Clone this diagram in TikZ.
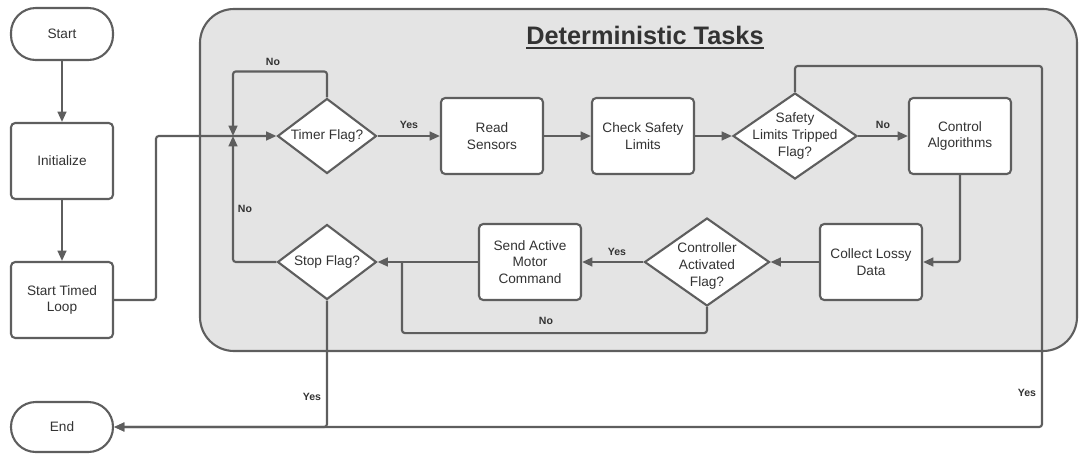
\documentclass[tikz,border=0pt]{standalone}
\usepackage{fontspec}
\setmainfont{Liberation Sans}
\usetikzlibrary{arrows.meta,positioning,shapes.geometric}
\definecolor{linegray}{HTML}{5E5E5E}
\definecolor{textgray}{HTML}{333333}
\definecolor{panelgray}{HTML}{E4E4E4}

\begin{document}
\begin{tikzpicture}[
    font=\fontsize{9.7}{11.8}\selectfont, text=textgray,
    task/.style={draw=linegray, line width=1.5pt, rounded corners=3pt, fill=white, minimum width=2.55cm, minimum height=1.9cm, align=center, inner sep=2pt},
    term/.style={draw=linegray, line width=1.5pt, rounded corners=0.62cm, fill=white, minimum width=2.55cm, minimum height=1.3cm},
    decision/.style={diamond, draw=linegray, line width=1.5pt, fill=white, inner sep=0pt, minimum width=2.475cm, minimum height=1.875cm},
    tag/.style={font=\fontsize{7.5}{9}\selectfont\bfseries},
    arrow/.style={-{Triangle[length=2.6mm,width=2.2mm]}, line width=1.5pt, draw=linegray, rounded corners=2pt},
    link/.style={line width=1.5pt, draw=linegray, rounded corners=2pt}
]
\useasboundingbox (0,0) rectangle (26.975,-11.45);

% deterministic part
\draw[draw=linegray, line width=1.5pt, fill=panelgray, rounded corners=0.85cm] (5,-0.225) rectangle (26.925,-8.775);
\node[font=\fontsize{18}{20}\selectfont\bfseries, anchor=base, inner sep=0pt] (title) at (16.125,-1.1) {Deterministic Tasks};
\draw[textgray, line width=1.3pt] ([yshift=-3pt]title.base west) -- ([yshift=-3pt]title.base east);

% outer flow
\node[term] (start) at (1.55,-0.85) {Start};
\node[task] (init) at (1.55,-4.025) {Initialize};
\node[task] (timed) at (1.55,-7.5) {Start Timed\\Loop};
\node[term, minimum height=1.25cm] (finish) at (1.55,-10.675) {End};

% loop body
\node[decision, label={[align=center]center:Timer Flag?}] (timer) at (8.175,-3.4) {};
\node[task] (read) at (12.3,-3.4) {Read\\Sensors};
\node[task] (check) at (16.075,-3.4) {Check Safety\\Limits};
\node[decision, minimum width=3.1cm, minimum height=2.15cm, label={[align=center]center:Safety\\Limits Tripped\\Flag?}] (safety) at (19.875,-3.4) {};
\node[task] (control) at (24,-3.4) {Control\\Algorithms};
\node[task] (collect) at (21.775,-6.55) {Collect Lossy\\Data};
\node[decision, minimum width=3.125cm, minimum height=2.2cm, label={[align=center, yshift=-0.1cm]center:Controller\\Activated\\Flag?}] (ctrl) at (17.675,-6.55) {};
\node[task] (send) at (13.25,-6.55) {Send Active\\Motor\\Command};
\node[decision, label={[align=center]center:Stop Flag?}] (stop) at (8.175,-6.55) {};

\coordinate (entry) at (3.9,-3.4);
\coordinate (join) at (5.825,-3.4);
\coordinate (exit) at (26.05,-10.675);

\draw[arrow] (start) -- (init);
\draw[arrow] (init) -- (timed);
\draw[arrow] (timed.east) -| (entry) -- (timer.west);
\draw[arrow] (timer.north) -- ++(0,0.65) -| (join);
\draw[arrow] (stop.west) -| (join);
\draw[arrow] (stop.south) |- (finish.east);
\draw[arrow] (safety.north) -- ++(0,0.65) -| (exit) -- (finish.east);

\foreach \from/\to in {timer/read,read/check,check/safety,safety/control,collect/ctrl,ctrl/send,send/stop}
    \draw[arrow] (\from) -- (\to);
\draw[arrow] (control.south) |- (collect.east);
\draw[link] (ctrl.south) -- ++(0,-0.65) -| (10.05,-6.55);

% branch labels
\node[tag] (noTimer) at (6.825,-1.55) {No};
\node[tag] (yesTimer) at (10.225,-3.125) {Yes};
\node[tag] (noSafety) at (22.075,-3.125) {No};
\node[tag] (yesSafety) at (25.675,-9.825) {Yes};
\node[tag] (yesCtrl) at (15.425,-6.3) {Yes};
\node[tag] (noCtrl) at (13.65,-8.025) {No};
\node[tag] (noStop) at (6.125,-5.225) {No};
\node[tag] (yesStop) at (7.8,-9.925) {Yes};
\end{tikzpicture}
\end{document}
